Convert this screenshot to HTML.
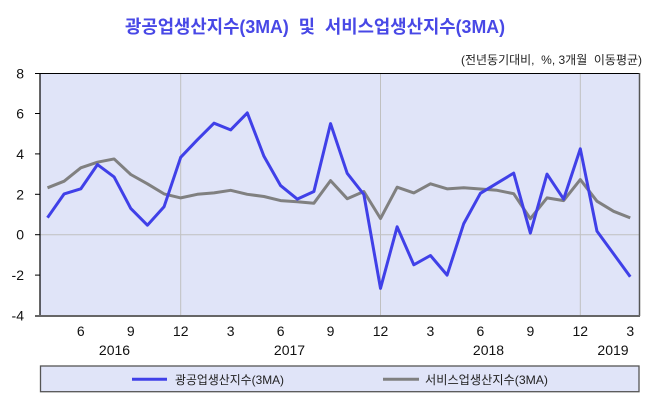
<!DOCTYPE html>
<html>
<head>
<meta charset="utf-8">
<style>
html,body{margin:0;padding:0;background:#fff;}
svg{display:block;}
text{font-family:"Liberation Sans","Noto Sans CJK KR",sans-serif;white-space:pre;}
.k{font-family:"Liberation Sans","Noto Sans CJK KR",sans-serif;}
</style>
</head>
<body>
<svg width="660" height="408" viewBox="0 0 660 408" xmlns="http://www.w3.org/2000/svg" xml:space="preserve">
  <rect x="0" y="0" width="660" height="408" fill="#ffffff"/>
  <!-- Title -->
  <text x="125" y="33" font-size="18" font-weight="bold" fill="#4848E6" textLength="380" lengthAdjust="spacingAndGlyphs" class="k">광공업생산지수(3MA)  및  서비스업생산지수(3MA)</text>
  <!-- Subtitle -->
  <text x="461" y="64" font-size="12" fill="#222" textLength="181" lengthAdjust="spacingAndGlyphs" class="k">(전년동기대비,  %, 3개월  이동평균)</text>

  <!-- plot background -->
  <rect x="40" y="73.5" width="599" height="242.5" fill="#E0E4F8"/>

  <!-- gridlines -->
  <line x1="40" y1="234.7" x2="639" y2="234.7" stroke="#C0C0C0" stroke-width="1"/>
  <line x1="180.7" y1="73.5" x2="180.7" y2="316" stroke="#C0C0C0" stroke-width="1"/>
  <line x1="380.5" y1="73.5" x2="380.5" y2="316" stroke="#C0C0C0" stroke-width="1"/>
  <line x1="580.3" y1="73.5" x2="580.3" y2="316" stroke="#C0C0C0" stroke-width="1"/>

  <!-- frame -->
  <line x1="40" y1="73.5" x2="639" y2="73.5" stroke="#000" stroke-width="1"/>
  <line x1="639.5" y1="73" x2="639.5" y2="316" stroke="#555" stroke-width="1.5"/>
  <line x1="40" y1="73" x2="40" y2="316" stroke="#000" stroke-width="1.2"/>
  <line x1="35" y1="316" x2="640" y2="316" stroke="#666" stroke-width="2"/>

  <!-- y ticks -->
  <g stroke="#000" stroke-width="1">
    <line x1="35" y1="73.5" x2="40" y2="73.5"/>
    <line x1="35" y1="113.5" x2="40" y2="113.5"/>
    <line x1="35" y1="153.9" x2="40" y2="153.9"/>
    <line x1="35" y1="194.3" x2="40" y2="194.3"/>
    <line x1="35" y1="234.7" x2="40" y2="234.7"/>
    <line x1="35" y1="275.1" x2="40" y2="275.1"/>
  </g>

  <!-- y labels -->
  <g font-size="14" fill="#111" text-anchor="end">
    <text x="24" y="78.5">8</text>
    <text x="24" y="118.5">6</text>
    <text x="24" y="158.9">4</text>
    <text x="24" y="199.3">2</text>
    <text x="24" y="239.7">0</text>
    <text x="24" y="280.1">-2</text>
    <text x="24" y="320.5">-4</text>
  </g>

  <!-- x labels -->
  <g font-size="14" fill="#111" text-anchor="middle">
    <text x="80.8" y="336">6</text>
    <text x="130.75" y="336">9</text>
    <text x="180.7" y="336">12</text>
    <text x="230.65" y="336">3</text>
    <text x="280.6" y="336">6</text>
    <text x="330.55" y="336">9</text>
    <text x="380.5" y="336">12</text>
    <text x="430.45" y="336">3</text>
    <text x="480.4" y="336">6</text>
    <text x="530.35" y="336">9</text>
    <text x="580.3" y="336">12</text>
    <text x="630.25" y="336">3</text>
    <text x="114.5" y="355">2016</text>
    <text x="289.5" y="355">2017</text>
    <text x="488.5" y="355">2018</text>
    <text x="613" y="355">2019</text>
  </g>

  <!-- gray series -->
  <polyline fill="none" stroke="#808080" stroke-width="3" stroke-linejoin="round" points="47.5,187.8 64.15,181.2 80.8,167.8 97.45,162.2 114.1,158.95 130.75,174.5 147.4,183.8 164.05,193.9 180.7,197.9 197.35,194.3 214,192.9 230.65,190.3 247.3,194.3 263.95,196.5 280.6,200.6 297.25,201.8 313.9,203.2 330.55,180.6 347.2,198.7 363.85,191.5 380.5,218.5 397.15,187.2 413.8,192.9 430.45,183.8 447.1,188.85 463.75,187.8 480.4,189.0 497.05,190.3 513.7,193.7 530.35,218.7 547,197.9 563.65,200.6 580.3,179.6 596.95,201.2 613.6,211.3 630.25,217.9"/>

  <!-- blue series -->
  <polyline fill="none" stroke="#4040E8" stroke-width="3" stroke-linejoin="round" points="47.5,217.7 64.15,193.9 80.8,188.85 97.45,164.6 114.1,176.9 130.75,208.4 147.4,225.2 164.05,206.8 180.7,157.3 197.35,139.8 214,123.2 230.65,129.9 247.3,112.9 263.95,156.3 280.6,185.6 297.25,199.1 313.9,191.5 330.55,123.6 347.2,173.3 363.85,194.5 380.5,288.4 397.15,226.8 413.8,264.8 430.45,255.5 447.1,275.1 463.75,223.6 480.4,193.3 497.05,183.2 513.7,173.1 530.35,233.1 547,174.1 563.65,199.1 580.3,148.85 596.95,231.1 613.6,253.9 630.25,276.7"/>

  <!-- legend -->
  <rect x="40.5" y="366" width="598.5" height="25.7" fill="#E0E4F8" stroke="#555" stroke-width="1.3"/>
  <line x1="132" y1="379.3" x2="167" y2="379.3" stroke="#4040E8" stroke-width="3"/>
  <text x="175" y="384" font-size="12" fill="#222" textLength="109" lengthAdjust="spacingAndGlyphs" class="k">광공업생산지수(3MA)</text>
  <line x1="383" y1="379.3" x2="419" y2="379.3" stroke="#808080" stroke-width="3"/>
  <text x="425" y="384" font-size="12" fill="#222" textLength="123" lengthAdjust="spacingAndGlyphs" class="k">서비스업생산지수(3MA)</text>
</svg>
</body>
</html>
